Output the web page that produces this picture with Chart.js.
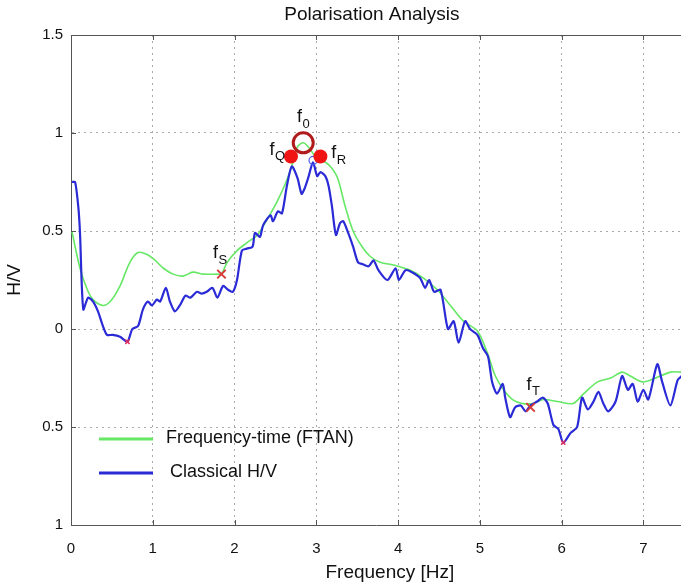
<!DOCTYPE html>
<html>
<head>
<meta charset="utf-8">
<title>Polarisation Analysis</title>
<script src="https://cdn.jsdelivr.net/npm/chart.js@4/dist/chart.umd.min.js"></script>
<style>
  body { margin: 0; background: #fff; }
  #wrap { width: 681px; height: 586px; }
</style>
</head>
<body>
<div id="wrap"><canvas id="hvChart" width="681" height="586"></canvas></div>
<script>
// classical H/V curve (blue)
const freqClassical = [0.01, 0.05, 0.09, 0.11, 0.15, 0.21, 0.27, 0.33, 0.39, 0.44, 0.51, 0.60, 0.69, 0.75, 0.82, 0.88, 0.94, 0.99, 1.05, 1.09,
    1.16, 1.21, 1.27, 1.33, 1.40, 1.46, 1.54, 1.60, 1.66, 1.73, 1.79, 1.86, 1.92, 1.98, 2.03, 2.09, 2.15, 2.22, 2.25, 2.31,
    2.35, 2.44, 2.47, 2.53, 2.58, 2.64, 2.70, 2.77, 2.82, 2.86, 2.90, 2.96, 3.01, 3.05, 3.11, 3.15, 3.19, 3.24, 3.29, 3.33,
    3.39, 3.45, 3.51, 3.57, 3.64, 3.70, 3.76, 3.87, 3.97, 4.01, 4.09, 4.17, 4.27, 4.33, 4.38, 4.44, 4.52, 4.61, 4.68, 4.74,
    4.82, 4.88, 4.97, 5.04, 5.10, 5.15, 5.21, 5.28, 5.31, 5.37, 5.43, 5.50, 5.56, 5.62, 5.70, 5.77, 5.83, 5.90, 5.96, 6.02,
    6.11, 6.19, 6.25, 6.32, 6.39, 6.45, 6.51, 6.57, 6.66, 6.74, 6.81, 6.87, 6.93, 7.00, 7.06, 7.17, 7.23, 7.33, 7.42, 7.47];
const hvClassical = [0.75, 0.75, 0.62, 0.49, 0.10, 0.16, 0.14, 0.09, 0.015, -0.03, -0.03, -0.04, -0.065, 0.0, 0.015, 0.10, 0.14, 0.12, 0.15, 0.14,
    0.21, 0.14, 0.09, 0.12, 0.17, 0.16, 0.19, 0.18, 0.19, 0.21, 0.16, 0.22, 0.20, 0.19, 0.25, 0.40, 0.41, 0.42, 0.49, 0.47,
    0.53, 0.58, 0.55, 0.60, 0.59, 0.73, 0.83, 0.77, 0.69, 0.72, 0.77, 0.85, 0.78, 0.80, 0.78, 0.73, 0.63, 0.48, 0.54, 0.55,
    0.49, 0.42, 0.34, 0.33, 0.32, 0.35, 0.30, 0.25, 0.31, 0.25, 0.30, 0.29, 0.26, 0.21, 0.25, 0.19, 0.20, 0.0, 0.04, -0.07,
    0.04, 0.0, -0.03, -0.10, -0.14, -0.27, -0.33, -0.28, -0.35, -0.45, -0.40, -0.39, -0.42, -0.39, -0.37, -0.35, -0.38, -0.49, -0.51, -0.58,
    -0.53, -0.50, -0.35, -0.41, -0.37, -0.32, -0.38, -0.42, -0.37, -0.24, -0.31, -0.28, -0.37, -0.31, -0.36, -0.18, -0.27, -0.39, -0.26, -0.24];

// frequency-time (FTAN) curve (green)
const freqFtan = [0.01, 0.11, 0.20, 0.27, 0.39, 0.48, 0.60, 0.72, 0.82, 0.93, 1.03, 1.13, 1.25, 1.37, 1.49, 1.62, 1.79, 1.84, 1.91, 2.03,
    2.15, 2.28, 2.40, 2.52, 2.62, 2.70, 2.77, 2.84, 2.90, 3.01, 3.08, 3.17, 3.26, 3.35, 3.45, 3.56, 3.66, 3.78, 3.90, 4.00,
    4.15, 4.31, 4.48, 4.64, 4.80, 4.97, 5.09, 5.19, 5.29, 5.40, 5.52, 5.65, 5.78, 5.95, 6.14, 6.27, 6.44, 6.60, 6.74, 6.84,
    6.99, 7.15, 7.33, 7.47];
const hvFtan = [0.50, 0.31, 0.20, 0.15, 0.12, 0.14, 0.22, 0.34, 0.39, 0.38, 0.35, 0.31, 0.28, 0.27, 0.29, 0.28, 0.28, 0.28, 0.34, 0.40,
    0.44, 0.48, 0.56, 0.65, 0.74, 0.83, 0.93, 0.95, 0.93, 0.87, 0.86, 0.83, 0.77, 0.63, 0.50, 0.42, 0.37, 0.34, 0.33, 0.32,
    0.30, 0.26, 0.20, 0.12, 0.04, -0.01, -0.12, -0.24, -0.31, -0.36, -0.38, -0.38, -0.36, -0.37, -0.38, -0.33, -0.27, -0.25, -0.22, -0.24,
    -0.27, -0.25, -0.22, -0.22];

// picked frequencies
const peakFreqs = [2.69, 3.05];       // fQ, fR
const peakValues = [0.88, 0.88];
const f0Freq = [2.84];
const f0Value = [0.95];
const crossFreqs = [1.84, 5.62];      // fS, fT
const crossValues = [0.28, -0.40];
const minFreqs = [0.69, 6.02];
const minValues = [-0.065, -0.58];

// text labels next to the picks
const pickNames = ["0", "Q", "R", "S", "T"];
const pickFreqs = [2.84, 2.52, 3.27, 1.82, 5.65];
const pickValues = [1.066, 0.90, 0.88, 0.37, -0.30];

const xTicks = [0, 1, 2, 3, 4, 5, 6, 7];
const yTicks = [1.5, 1, 0.5, 0, -0.5, -1];

const seriesNames = ["Frequency-time (FTAN)", "Classical H/V"];
const seriesColors = ["#66e866", "#2a2ad6"];

function pairs(xs, ys) {
    return xs.map((x, i) => ({ x: x, y: ys[i] }));
}

const fontFamily = "'Liberation Sans', Arial, sans-serif";

// frame, inward ticks, labels, legend, titles
const decorations = {
    id: "decorations",
    afterDraw(chart) {
        const ctx = chart.ctx;
        const area = chart.chartArea;
        const xs = chart.scales.x;
        const ys = chart.scales.y;

        ctx.save();
        ctx.strokeStyle = "#555";
        ctx.lineWidth = 1;
        ctx.beginPath();
        ctx.moveTo(area.left, area.top + 0.5);
        ctx.lineTo(area.right, area.top + 0.5);
        xTicks.forEach(v => {
            const px = Math.round(xs.getPixelForValue(v)) + 0.5;
            ctx.moveTo(px, area.top);
            ctx.lineTo(px, area.top + 5);
            ctx.moveTo(px, area.bottom);
            ctx.lineTo(px, area.bottom - 5);
        });
        yTicks.forEach(v => {
            const py = Math.round(ys.getPixelForValue(v)) + 0.5;
            ctx.moveTo(area.left, py);
            ctx.lineTo(area.left + 5, py);
        });
        ctx.stroke();

        // pick labels
        ctx.fillStyle = "#111";
        ctx.textBaseline = "middle";
        pickNames.forEach((name, i) => {
            const px = xs.getPixelForValue(pickFreqs[i]);
            const py = ys.getPixelForValue(pickValues[i]);
            ctx.font = "18px " + fontFamily;
            const wf = ctx.measureText("f").width;
            ctx.font = "13px " + fontFamily;
            const ws = ctx.measureText(name).width;
            const start = px - (wf + ws) / 2;
            ctx.font = "18px " + fontFamily;
            ctx.textAlign = "left";
            ctx.fillText("f", start, py - 3);
            ctx.font = "13px " + fontFamily;
            ctx.fillText(name, start + wf + 0.5, py + 4);
        });

        // legend
        const legendY = [439, 473];
        const textX = [166, 170];
        ctx.lineWidth = 3;
        ctx.font = "18px " + fontFamily;
        seriesNames.forEach((name, i) => {
            ctx.strokeStyle = seriesColors[i];
            ctx.beginPath();
            ctx.moveTo(99, legendY[i]);
            ctx.lineTo(153, legendY[i]);
            ctx.stroke();
            ctx.fillStyle = "#111";
            ctx.fillText(name, textX[i], legendY[i] - 1);
        });

        // chart title and x axis title
        ctx.textAlign = "center";
        ctx.font = "19px " + fontFamily;
        ctx.fillText("Polarisation Analysis", xs.getPixelForValue(3.68), 15);
        ctx.fillText("Frequency [Hz]", xs.getPixelForValue(3.9), 573);
        ctx.restore();
    }
};

const ctx = document.getElementById("hvChart");

new Chart(ctx, {
    type: "line",
    data: {
        datasets: [
            {
                type: "scatter",
                data: pairs(f0Freq, f0Value),
                pointRadius: 10,
                pointBorderWidth: 3,
                pointBorderColor: "#b01c1c",
                pointBackgroundColor: "rgba(0,0,0,0)",
                order: 0
            },
            {
                type: "scatter",
                data: pairs(peakFreqs, peakValues),
                pointRadius: 7,
                pointBorderWidth: 0,
                pointBackgroundColor: "#f01414",
                order: 0
            },
            {
                type: "scatter",
                data: [{ x: 2.96, y: 0.86 }],
                pointRadius: 4,
                pointBorderWidth: 1.2,
                pointBorderColor: "#4a5cf0",
                pointBackgroundColor: "rgba(0,0,0,0)",
                order: 0
            },
            {
                type: "scatter",
                data: pairs(crossFreqs, crossValues),
                pointStyle: "crossRot",
                pointRadius: 6,
                pointBorderWidth: 2,
                pointBorderColor: "#d83a3a",
                order: 0
            },
            {
                type: "scatter",
                data: pairs(minFreqs, minValues),
                pointStyle: "crossRot",
                pointRadius: 3,
                pointBorderWidth: 1.5,
                pointBorderColor: "#e03060",
                order: 0
            },
            {
                label: seriesNames[1],
                data: pairs(freqClassical, hvClassical),
                borderColor: seriesColors[1],
                borderWidth: 2.2,
                pointRadius: 0,
                tension: 0.25,
                order: 1
            },
            {
                label: seriesNames[0],
                data: pairs(freqFtan, hvFtan),
                borderColor: seriesColors[0],
                borderWidth: 1.6,
                pointRadius: 0,
                tension: 0.3,
                order: 2
            }
        ]
    },
    options: {
        responsive: false,
        animation: false,
        devicePixelRatio: 1,
        layout: {
            autoPadding: false,
            padding: { top: 35, right: 0, bottom: 0, left: 0 }
        },
        plugins: {
            legend: { display: false },
            tooltip: { enabled: false },
            title: { display: false }
        },
        scales: {
            x: {
                type: "linear",
                min: 0,
                max: 7.46,
                afterFit(scale) {
                    scale.height = 61;
                    scale.paddingLeft = 0;
                    scale.paddingRight = 0;
                },
                ticks: {
                    stepSize: 1,
                    includeBounds: false,
                    padding: 15,
                    color: "#111",
                    font: { family: fontFamily, size: 15 }
                },
                grid: {
                    color: "#aaa",
                    drawTicks: false
                },
                border: { color: "#555", width: 1, dash: [2, 4] }
            },
            y: {
                type: "linear",
                min: -1,
                max: 1.5,
                afterFit(scale) {
                    scale.width = 71;
                    scale.paddingTop = 0;
                    scale.paddingBottom = 0;
                },
                ticks: {
                    stepSize: 0.5,
                    padding: 8,
                    color: "#111",
                    font: { family: fontFamily, size: 15 },
                    callback: v => String(Math.abs(v))
                },
                grid: {
                    color: "#aaa",
                    drawTicks: false
                },
                border: { color: "#555", width: 1, dash: [2, 4] },
                title: {
                    display: true,
                    text: "H/V",
                    color: "#111",
                    font: { family: fontFamily, size: 19 },
                    padding: { top: 3, bottom: 0 }
                }
            }
        }
    },
    plugins: [decorations]
});
</script>
</body>
</html>
